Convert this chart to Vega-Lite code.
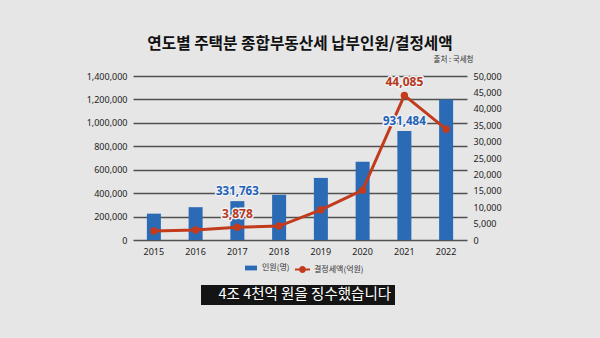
{
  "$schema": "https://vega.github.io/schema/vega-lite/v6.json",
  "width": 334,
  "height": 164,
  "autosize": {"type": "none"},
  "padding": {"left": 133, "top": 76, "right": 133, "bottom": 98},
  "background": "#e6e6e6",
  "title": {
    "text": "연도별 주택분 종합부동산세 납부인원/결정세액",
    "font": "Noto Sans CJK KR",
    "fontWeight": "bold",
    "fontSize": 15.7,
    "color": "#111111",
    "anchor": "middle",
    "frame": "group",
    "offset": 2
  },
  "config": {
    "view": {"stroke": null},
    "axis": {
      "labelFont": "Noto Sans",
      "labelFontSize": 9,
      "labelColor": "#222222",
      "domain": false,
      "ticks": false
    },
    "legend": {
      "labelFont": "Noto Sans CJK KR",
      "labelFontSize": 8,
      "labelColor": "#333333",
      "title": null,
      "orient": "none",
      "padding": 0
    }
  },
  "data": {
    "values": [
      {"year": "2015", "people": 225000, "tax": 2744},
      {"year": "2016", "people": 280000, "tax": 3050},
      {"year": "2017", "people": 331763, "tax": 3878, "pl": "331,763", "tl": "3,878"},
      {"year": "2018", "people": 386000, "tax": 4260},
      {"year": "2019", "people": 530000, "tax": 9200},
      {"year": "2020", "people": 668000, "tax": 15200},
      {"year": "2021", "people": 931484, "tax": 44085, "pl": "931,484", "tl": "44,085"},
      {"year": "2022", "people": 1200000, "tax": 33800}
    ]
  },
  "encoding": {
    "x": {
      "field": "year",
      "type": "ordinal",
      "scale": {"paddingInner": 0, "paddingOuter": 0},
      "axis": {"title": null, "labelAngle": 0, "labelPadding": 7, "grid": false}
    }
  },
  "layer": [
    {
      "mark": {"type": "bar", "size": 14},
      "encoding": {
        "y": {
          "field": "people",
          "type": "quantitative",
          "scale": {"domain": [0, 1400000], "nice": false},
          "axis": {
            "title": null,
            "orient": "left",
            "values": [0, 200000, 400000, 600000, 800000, 1000000, 1200000, 1400000],
            "format": ",d",
            "labelPadding": 6,
            "grid": true,
            "gridColor": "#505050",
            "gridWidth": 1.4
          }
        },
        "fill": {
          "datum": "인원(명)",
          "scale": {"range": ["#2b6ab5"]},
          "legend": {
            "legendX": 111,
            "legendY": 185,
            "symbolType": "M-1,-0.4H1V0.4H-1Z",
            "symbolSize": 144,
            "labelOffset": 4
          }
        }
      }
    },
    {
      "encoding": {
        "y": {
          "field": "tax",
          "type": "quantitative",
          "scale": {"domain": [0, 50000], "nice": false},
          "axis": {
            "title": "출처 : 국세청",
            "titleFont": "Noto Sans CJK KR",
            "titleFontSize": 7.5,
            "titleFontWeight": "normal",
            "titleColor": "#333333",
            "titleAngle": 0,
            "titleAlign": "right",
            "titleBaseline": "middle",
            "titleX": 6,
            "titleY": -17,
            "orient": "right",
            "values": [0, 5000, 10000, 15000, 20000, 25000, 30000, 35000, 40000, 45000, 50000],
            "format": ",d",
            "labelPadding": 6,
            "grid": false
          }
        }
      },
      "layer": [
        {
          "mark": {"type": "line", "strokeWidth": 3},
          "encoding": {
            "stroke": {
              "datum": "결정세액(억원)",
              "scale": {"range": ["#c23b1d"]},
              "legend": {
                "legendX": 161,
                "legendY": 185,
                "symbolType": "M-1,0H1M0.33,0A0.33,0.33,0,1,1,-0.33,0A0.33,0.33,0,1,1,0.33,0Z",
                "symbolSize": 225,
                "symbolStrokeWidth": 2,
                "labelOffset": 3,
                "encode": {"symbols": {"update": {"fill": {"value": "#c23b1d"}}}}
              }
            }
          }
        },
        {
          "mark": {"type": "point", "filled": true, "size": 55, "color": "#c23b1d", "opacity": 1},
          "encoding": {
            "shape": {
              "datum": "4조 4천억 원을 징수했습니다",
              "scale": {"range": ["circle"]},
              "legend": {
                "legendX": 68,
                "legendY": 209,
                "fillColor": "#141414",
                "padding": 3,
                "symbolSize": 0,
                "symbolOpacity": 0,
                "symbolStrokeWidth": 0,
                "labelOffset": 0,
                "labelColor": "#ffffff",
                "labelFontSize": 14.5,
                "labelFont": "Noto Sans CJK KR",
                "labelLimit": 400
              }
            }
          }
        },
        {
          "transform": [{"filter": "datum.tl != null"}],
          "mark": {"type": "text", "font": "Noto Sans", "fontSize": 12, "fontWeight": "bold", "color": "#eef1f5", "stroke": "#eef1f5", "strokeWidth": 3, "strokeJoin": "round", "dy": -13, "baseline": "middle"},
          "encoding": {"text": {"field": "tl"}}
        },
        {
          "transform": [{"filter": "datum.tl != null"}],
          "mark": {"type": "text", "font": "Noto Sans", "fontSize": 12, "fontWeight": "bold", "color": "#b8391a", "dy": -13, "baseline": "middle"},
          "encoding": {"text": {"field": "tl"}}
        }
      ]
    },
    {
      "transform": [{"filter": "datum.pl != null"}],
      "encoding": {
        "y": {
          "field": "people",
          "type": "quantitative",
          "scale": {"domain": [0, 1400000], "nice": false},
          "axis": null
        },
        "text": {"field": "pl"}
      },
      "layer": [
        {
          "mark": {"type": "text", "font": "Noto Sans", "fontSize": 11.5, "fontWeight": "bold", "color": "#eef1f5", "stroke": "#eef1f5", "strokeWidth": 3, "strokeJoin": "round", "dy": -9, "baseline": "middle"}
        },
        {
          "mark": {"type": "text", "font": "Noto Sans", "fontSize": 11.5, "fontWeight": "bold", "color": "#1f62b5", "dy": -9, "baseline": "middle"}
        }
      ]
    }
  ],
  "resolve": {"scale": {"y": "independent"}}
}
